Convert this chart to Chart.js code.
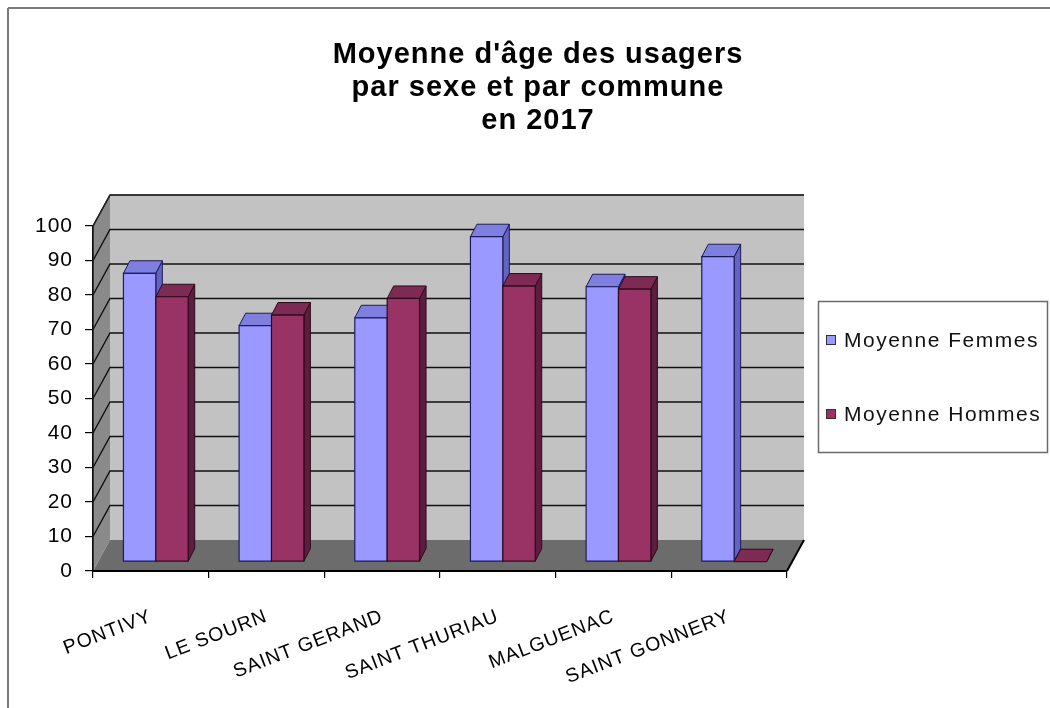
<!DOCTYPE html>
<html>
<head>
<meta charset="utf-8">
<script src="https://cdn.jsdelivr.net/npm/chart.js@4/dist/chart.umd.min.js"></script>
<style>
  html, body { margin: 0; padding: 0; background: #fff; }
  canvas { display: block; }
</style>
</head>
<body>
<canvas id="c" width="1050" height="708"></canvas>
<script>
// ---- data ----
const categories = ['PONTIVY', 'LE SOURN', 'SAINT GERAND', 'SAINT THURIAU', 'MALGUENAC', 'SAINT GONNERY'];
const femmes = [83.6, 68.4, 70.7, 94.2, 79.7, 88.4];
const hommes = [76.8, 71.5, 76.3, 79.9, 79.0, 0];
const seriesNames = ['Moyenne Femmes', 'Moyenne Hommes'];
const titleLines = ["Moyenne d'âge des usagers", 'par sexe et par commune', 'en 2017'];
const yMin = 0, yMax = 100, yStep = 10;

// ---- styles ----
const FONT = "'Liberation Sans', Arial, sans-serif";
const SPACING = '1px';
const DEPTH = { x: 17, y: -31 };        // depth of the 3D box (front plane -> back wall)
const BAR_SHIFT = { x: 5, y: -9.3 };    // front face of bars sits inside the box
const BAR_DEPTH = { x: 6.5, y: -12.5 }; // depth of each bar
const faces = [
  { front: '#9999ff', top: '#7f7fe0', side: '#6464c0', edge: '#1c1c5a' },
  { front: '#993366', top: '#7d2a55', side: '#5c1e3e', edge: '#2e0a1c' }
];

function poly(ctx, pts, fill, stroke, lw) {
  ctx.beginPath();
  ctx.moveTo(pts[0][0], pts[0][1]);
  for (let k = 1; k < pts.length; k++) ctx.lineTo(pts[k][0], pts[k][1]);
  ctx.closePath();
  if (fill) { ctx.fillStyle = fill; ctx.fill(); }
  if (stroke) { ctx.strokeStyle = stroke; ctx.lineWidth = lw || 1; ctx.stroke(); }
}
function seg(ctx, x1, y1, x2, y2, color, lw) {
  ctx.beginPath(); ctx.moveTo(x1, y1); ctx.lineTo(x2, y2);
  ctx.strokeStyle = color; ctx.lineWidth = lw; ctx.stroke();
}

const scene3d = {
  id: 'scene3d',
  beforeLayout(chart) { chart.ctx.letterSpacing = SPACING; },
  beforeDraw(chart) {
    const ctx = chart.ctx;
    ctx.letterSpacing = SPACING;
    ctx.save();
    ctx.fillStyle = '#ffffff';
    ctx.fillRect(0, 0, chart.width, chart.height);
    ctx.restore();
  },
  beforeDatasetsDraw(chart) {
    const ctx = chart.ctx, ys = chart.scales.y, a = chart.chartArea;
    const L = a.left, R = a.right;
    const y0 = ys.getPixelForValue(yMin), yT = ys.getPixelForValue(yMax);
    const dx = DEPTH.x, dy = DEPTH.y;
    ctx.save();
    // back wall
    poly(ctx, [[L + dx, y0 + dy], [R + dx, y0 + dy], [R + dx, yT + dy], [L + dx, yT + dy]], '#c2c2c2');
    // left wall
    poly(ctx, [[L, y0], [L + dx, y0 + dy], [L + dx, yT + dy], [L, yT]], '#8a8a8a');
    // floor
    poly(ctx, [[L, y0], [R, y0], [R + dx, y0 + dy], [L + dx, y0 + dy]], '#6c6c6c');
    // gridlines on walls
    ys.ticks.forEach(t => {
      if (t.value <= yMin) return;
      const y = ys.getPixelForValue(t.value);
      ctx.beginPath();
      ctx.moveTo(L, y); ctx.lineTo(L + dx, y + dy); ctx.lineTo(R + dx, y + dy);
      ctx.strokeStyle = '#111'; ctx.lineWidth = 1.4; ctx.stroke();
    });
    // bars (3D)
    const metas = chart.data.datasets.map((_, d) => chart.getDatasetMeta(d));
    for (let i = 0; i < categories.length; i++) {
      for (let d = 0; d < metas.length; d++) {
        const el = metas[d].data[i];
        if (!el) continue;
        const p = el.getProps(['x', 'y', 'base', 'width'], true);
        const l = p.x - p.width / 2 + BAR_SHIFT.x, r = p.x + p.width / 2 + BAR_SHIFT.x;
        const t = Math.min(p.y, p.base) + BAR_SHIFT.y, b = Math.max(p.y, p.base) + BAR_SHIFT.y;
        const bx = BAR_DEPTH.x, by = BAR_DEPTH.y, c = faces[d];
        poly(ctx, [[r, b], [r + bx, b + by], [r + bx, t + by], [r, t]], c.side, c.edge, 1);
        poly(ctx, [[l, t], [r, t], [r + bx, t + by], [l + bx, t + by]], c.top, c.edge, 1);
        if (b - t > 0.5) poly(ctx, [[l, t], [r, t], [r, b], [l, b]], c.front, c.edge, 1.2);
      }
    }
    ctx.restore();
    return false;
  },
  afterDraw(chart) {
    const ctx = chart.ctx, ys = chart.scales.y, a = chart.chartArea;
    const L = a.left, R = a.right;
    const y0 = ys.getPixelForValue(yMin), yT = ys.getPixelForValue(yMax);
    const dx = DEPTH.x, dy = DEPTH.y;
    ctx.save();
    // box edges
    seg(ctx, L, y0, L, yT, '#111', 1.4);
    seg(ctx, L, yT, L + dx, yT + dy, '#222', 1.4);
    seg(ctx, L + dx, yT + dy, R + dx, yT + dy, '#333', 1.4);
    seg(ctx, L - 1, y0, R, y0, '#000', 2);
    seg(ctx, R, y0, R + dx, y0 + dy, '#000', 2);

    // legend
    const lx = 818.5, ly = 301.5, lw = 229, lh = 151;
    ctx.fillStyle = '#fff';
    ctx.fillRect(lx, ly, lw, lh);
    ctx.strokeStyle = '#6a6a6a'; ctx.lineWidth = 1.5;
    ctx.strokeRect(lx, ly, lw, lh);
    const rows = [340, 414];
    chart.data.datasets.forEach((ds, d) => {
      const cy = rows[d];
      ctx.fillStyle = ds.backgroundColor;
      ctx.fillRect(826.5, cy - 4.5, 9, 9);
      ctx.strokeStyle = '#333'; ctx.lineWidth = 1;
      ctx.strokeRect(826.5, cy - 4.5, 9, 9);
      ctx.fillStyle = '#111';
      ctx.font = '21px ' + FONT;
      ctx.letterSpacing = '1.5px';
      ctx.textAlign = 'left'; ctx.textBaseline = 'middle';
      ctx.fillText(ds.label, 844, cy + 1);
    });

    // outer frame
    seg(ctx, 8, 8, chart.width, 8, '#7a7a7a', 2);
    seg(ctx, 8, 8, 8, chart.height, '#7a7a7a', 2);
    ctx.restore();
  }
};

new Chart(document.getElementById('c').getContext('2d'), {
  type: 'bar',
  data: {
    labels: categories,
    datasets: [
      { label: seriesNames[0], data: femmes, backgroundColor: faces[0].front, borderColor: faces[0].edge },
      { label: seriesNames[1], data: hommes, backgroundColor: faces[1].front, borderColor: faces[1].edge }
    ]
  },
  options: {
    responsive: false,
    animation: false,
    devicePixelRatio: 1,
    layout: { padding: { left: 26, right: 0, top: 0, bottom: 0 } },
    datasets: { bar: { categoryPercentage: 0.56, barPercentage: 1 } },
    plugins: {
      legend: { display: false },
      tooltip: { enabled: false },
      title: {
        display: true,
        text: titleLines,
        color: '#000',
        font: { family: FONT, size: 29, weight: 'bold', lineHeight: 33 / 29 },
        padding: { top: 38, bottom: 89 }
      }
    },
    scales: {
      x: {
        grid: { offset: true, drawOnChartArea: false, color: '#000', tickLength: 7, lineWidth: 1.2 },
        border: { display: true, color: '#000', width: 1.5 },
        ticks: { minRotation: 21, maxRotation: 21, autoSkip: false, color: '#000', font: { family: FONT, size: 19.5 }, padding: 27 },
        afterFit(s) { s.height = 137; }
      },
      y: {
        min: yMin, max: yMax,
        ticks: { stepSize: yStep, color: '#000', font: { family: FONT, size: 21 }, padding: 12 },
        grid: { drawOnChartArea: false, color: '#000', tickLength: 8, lineWidth: 1.2 },
        border: { display: true, color: '#000', width: 1.5 },
        afterFit(s) { s.width = 67; }
      },
      yR: {
        position: 'right', display: true,
        grid: { display: false }, ticks: { display: false }, border: { display: false },
        afterFit(s) { s.width = 263; }
      }
    }
  },
  plugins: [scene3d]
});
</script>
</body>
</html>
